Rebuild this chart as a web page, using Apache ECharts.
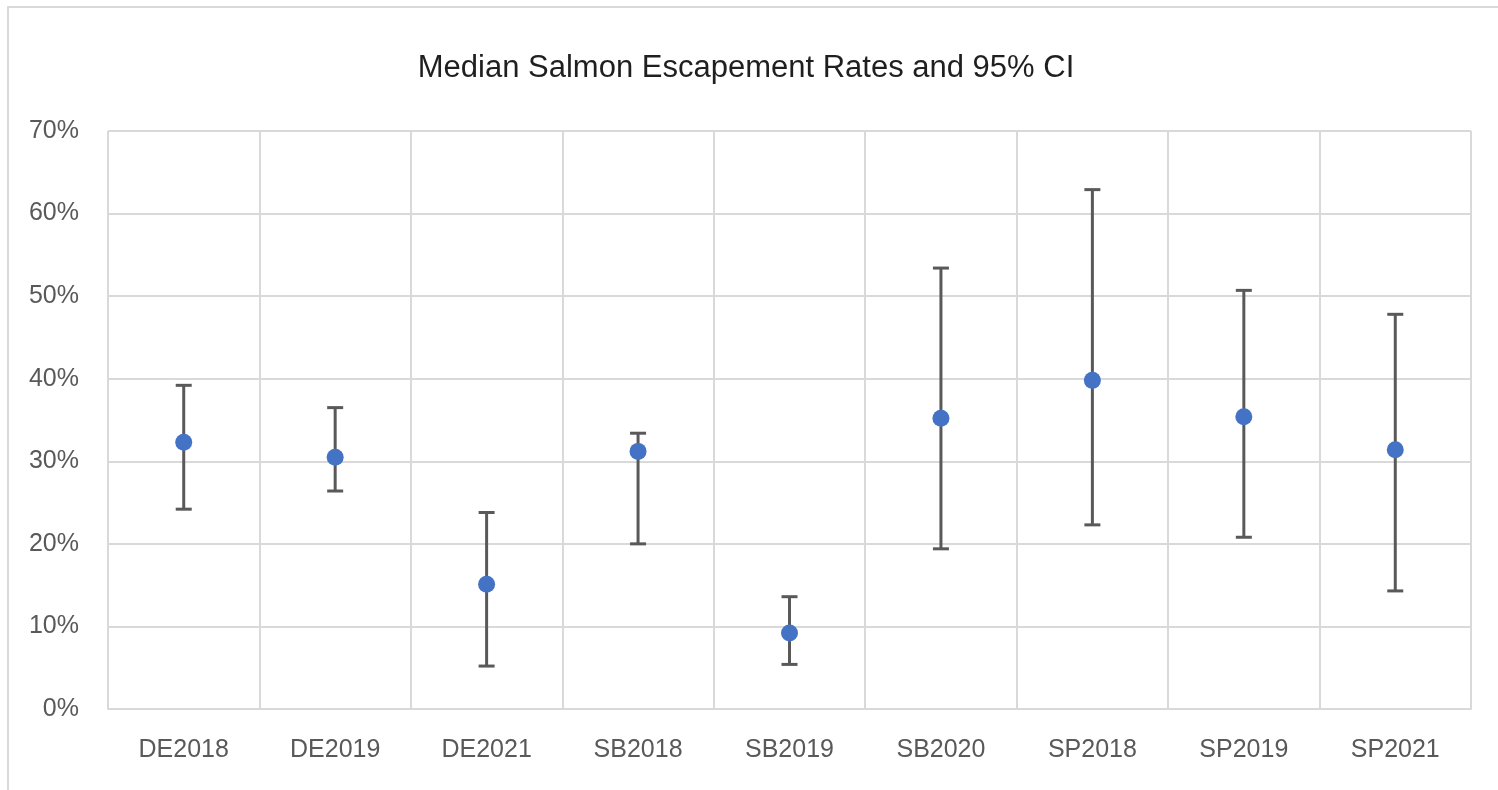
<!DOCTYPE html>
<html>
<head>
<meta charset="utf-8">
<script src="https://cdn.jsdelivr.net/npm/echarts@6/dist/echarts.min.js"></script>
<style>
  html, body { margin: 0; padding: 0; background: #fff; }
  #chart { width: 1498px; height: 790px; }
</style>
</head>
<body>
<div id="chart"></div>
<script>
const categories = ['DE2018', 'DE2019', 'DE2021', 'SB2018', 'SB2019', 'SB2020', 'SP2018', 'SP2019', 'SP2021']
// median escapement rate and 95% CI bounds, in percent
const median = [32.3, 30.5, 15.1, 31.2, 9.2, 35.2, 39.8, 35.4, 31.4]
const lower = [24.2, 26.4, 5.2, 20.0, 5.4, 19.4, 22.3, 20.8, 14.3]
const upper = [39.2, 36.5, 23.8, 33.4, 13.6, 53.4, 62.9, 50.7, 47.8]

const font = 'Liberation Sans'
const gridColor = '#d9d9d9'

const ciData = categories.map((c, i) => [i, lower[i], upper[i]])

const renderErrorBar = (params, api) => {
  const lo = api.coord([api.value(0), api.value(1)])
  const hi = api.coord([api.value(0), api.value(2)])
  const half = 8
  const style = { stroke: '#595959', lineWidth: 3 }
  return {
    type: 'group',
    children: [
      { type: 'line', shape: { x1: lo[0], y1: lo[1], x2: hi[0], y2: hi[1] }, style },
      { type: 'line', shape: { x1: hi[0] - half, y1: hi[1], x2: hi[0] + half, y2: hi[1] }, style },
      { type: 'line', shape: { x1: lo[0] - half, y1: lo[1], x2: lo[0] + half, y2: lo[1] }, style }
    ]
  }
}

const option = {
  animation: false,
  graphic: [
    {
      type: 'rect',
      shape: { x: 8, y: 7, width: 1600, height: 900 },
      style: { fill: 'none', stroke: gridColor, lineWidth: 2 },
      silent: true
    }
  ],
  title: {
    text: 'Median Salmon Escapement Rates and 95% CI',
    left: 741,
    top: 48,
    textAlign: 'center',
    textStyle: { fontFamily: font, fontSize: 31, fontWeight: 'normal', color: '#1f1f1f' }
  },
  grid: { left: 108, right: 27, top: 131, bottom: 81, containLabel: false },
  xAxis: {
    type: 'category',
    data: categories,
    axisLine: { lineStyle: { color: gridColor, width: 2 } },
    axisTick: { show: false },
    splitLine: { show: true, lineStyle: { color: gridColor, width: 2 } },
    axisLabel: { fontFamily: font, fontSize: 25, color: '#595959', margin: 29 }
  },
  yAxis: {
    type: 'value',
    min: 0,
    max: 70,
    interval: 10,
    axisLine: { show: false },
    axisTick: { show: false },
    splitLine: { lineStyle: { color: gridColor, width: 2 } },
    axisLabel: { fontFamily: font, fontSize: 25, color: '#595959', margin: 29, formatter: '{value}%' }
  },
  series: [
    {
      type: 'custom',
      name: '95% CI',
      data: ciData,
      renderItem: renderErrorBar,
      encode: { x: 0, y: [1, 2] },
      z: 2
    },
    {
      type: 'scatter',
      name: 'Median',
      data: median,
      symbol: 'circle',
      symbolSize: 17,
      itemStyle: { color: '#4472c4', opacity: 1 },
      z: 3
    }
  ]
}

const chart = echarts.init(document.getElementById('chart'))
chart.setOption(option)
</script>
</body>
</html>
